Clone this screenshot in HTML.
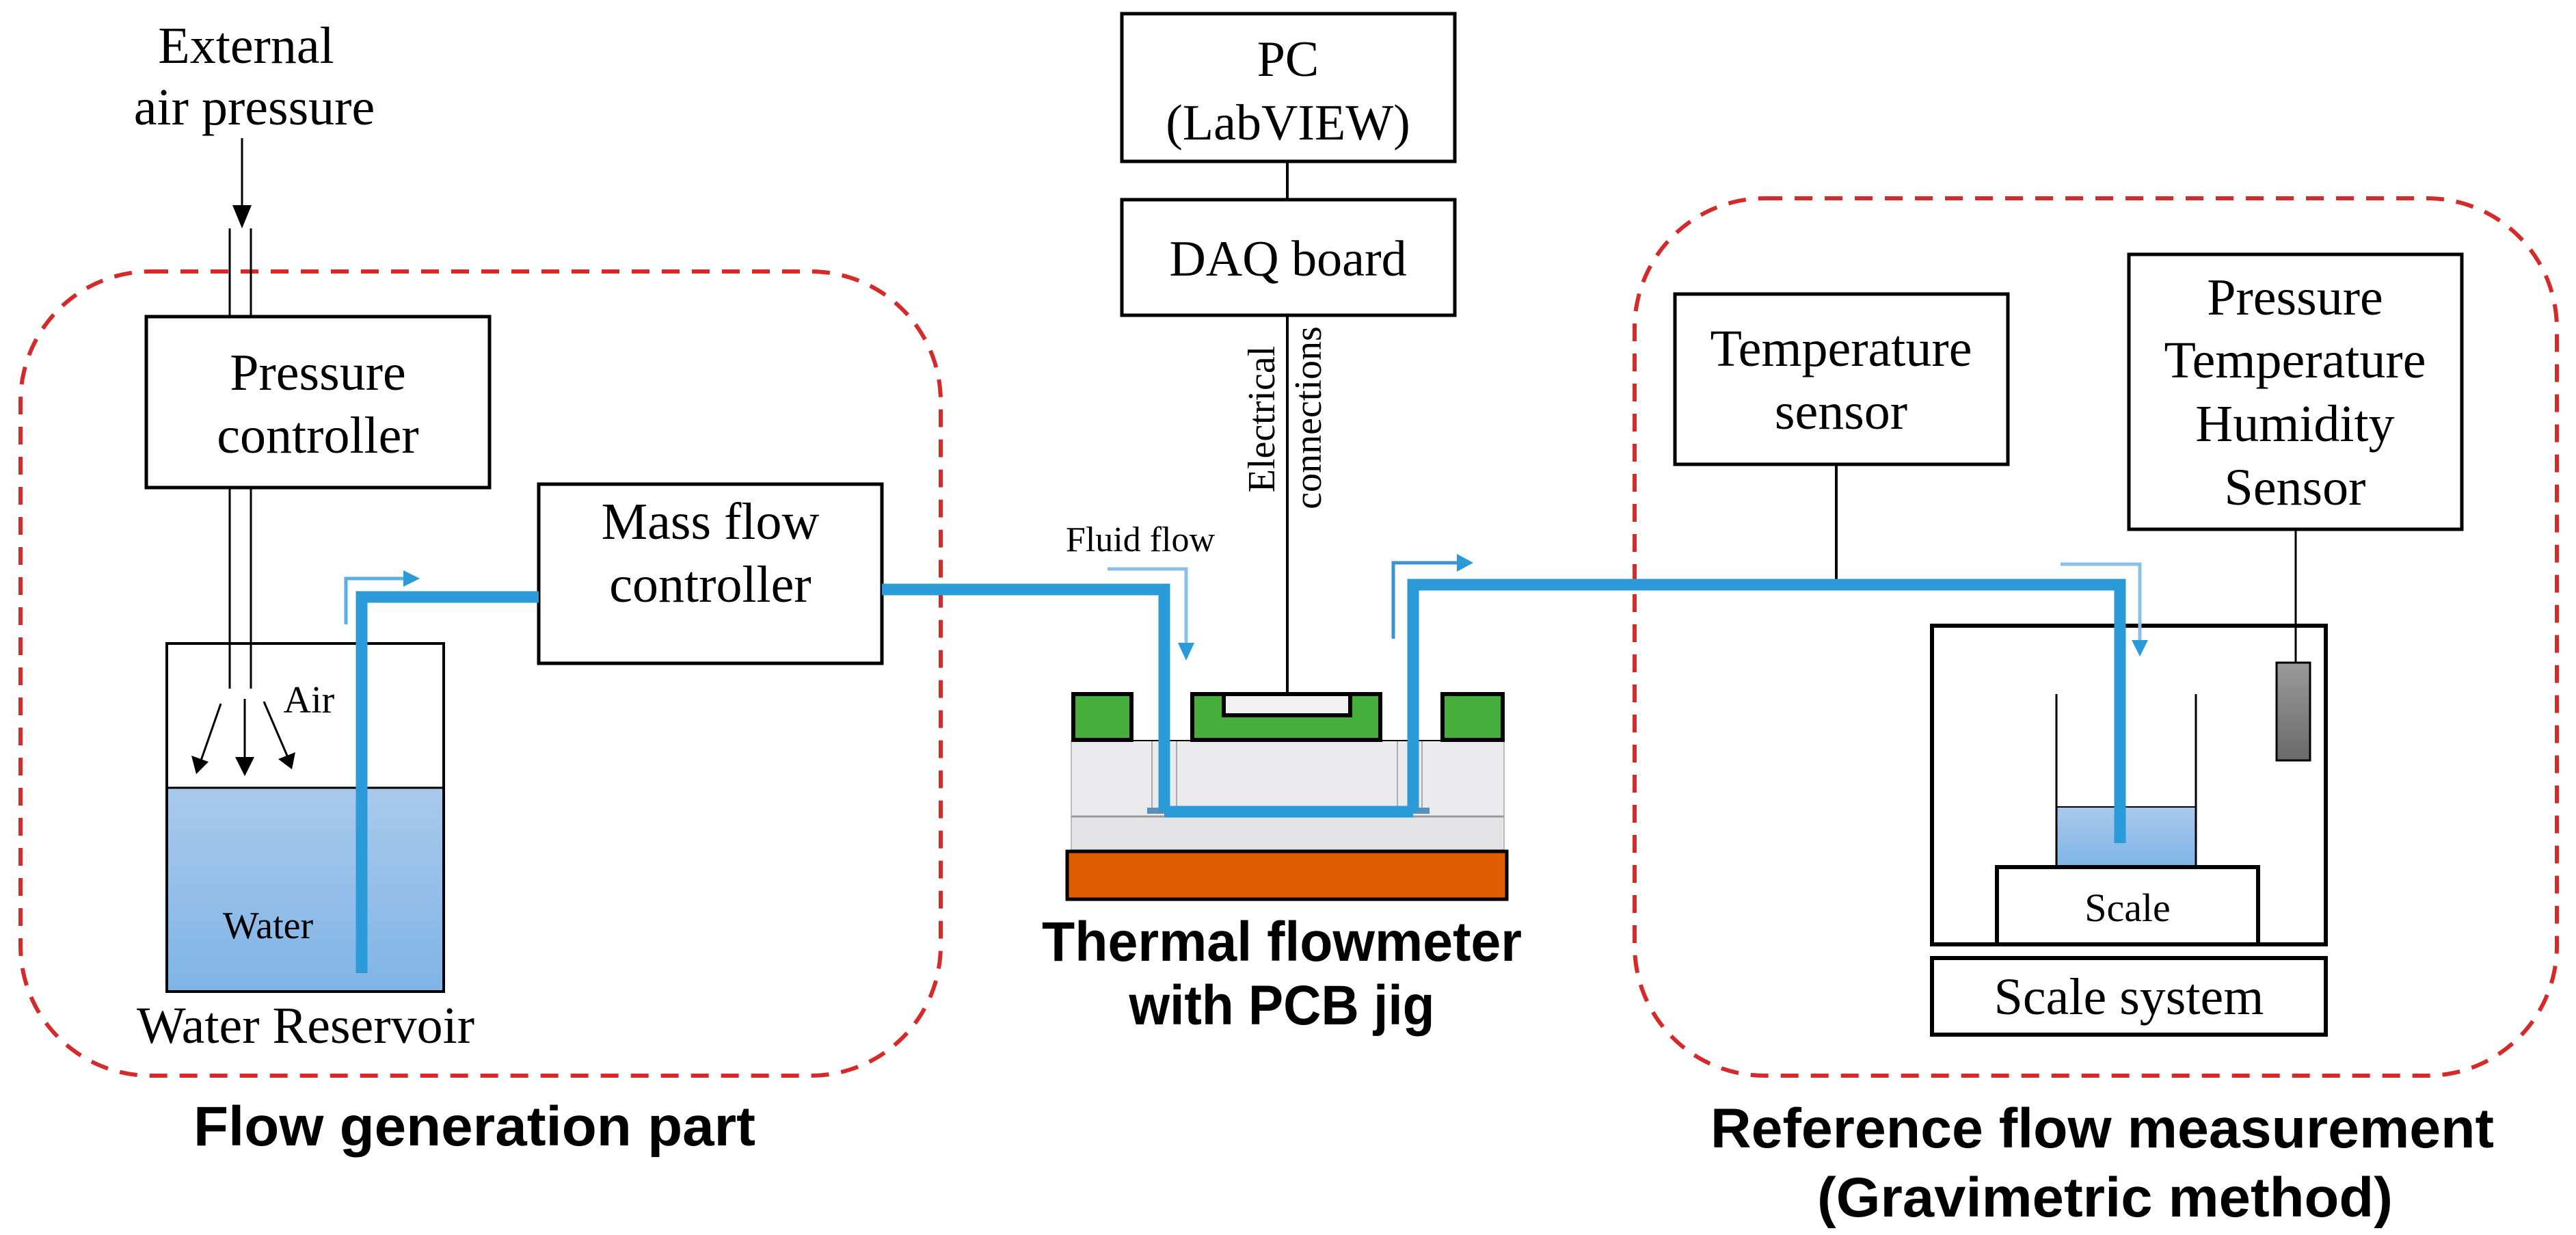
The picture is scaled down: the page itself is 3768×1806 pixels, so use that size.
<!DOCTYPE html>
<html><head><meta charset="utf-8">
<style>html,body{margin:0;padding:0;background:#fff}svg{display:block}</style>
</head><body>
<svg xmlns="http://www.w3.org/2000/svg" width="3768" height="1806" viewBox="0 0 3768 1806">
<defs>
<linearGradient id="wg" x1="0" y1="0" x2="0" y2="1"><stop offset="0" stop-color="#a9c9ec"/><stop offset="1" stop-color="#7fb4e6"/></linearGradient>
<marker id="ab" markerWidth="10" markerHeight="10" refX="9" refY="5" orient="auto" markerUnits="userSpaceOnUse" viewBox="0 0 10 10"><path d="M0,0 L10,5 L0,10 z" fill="#000"/></marker>
</defs>
<g font-family="Liberation Serif, serif" fill="#000">
<!-- dashed groups -->
<rect x="30" y="397" width="1346" height="1176" rx="190" fill="none" stroke="#d42a2a" stroke-width="6" stroke-dasharray="26,18"/>
<rect x="2391" y="290" width="1349" height="1283" rx="190" fill="none" stroke="#d42a2a" stroke-width="6" stroke-dasharray="26,18"/>

<!-- external air -->
<text x="360" y="92" font-size="76" text-anchor="middle">External</text>
<text x="372" y="182" font-size="76" text-anchor="middle">air pressure</text>
<line x1="354" y1="202" x2="354" y2="305" stroke="#000" stroke-width="3"/>
<path d="M340,300 L368,300 L354,334 z"/>
<line x1="336" y1="334" x2="336" y2="461" stroke="#000" stroke-width="3"/>
<line x1="367" y1="334" x2="367" y2="461" stroke="#000" stroke-width="3"/>
<line x1="336" y1="714" x2="336" y2="1007" stroke="#000" stroke-width="3"/>
<line x1="367" y1="714" x2="367" y2="1007" stroke="#000" stroke-width="3"/>

<!-- pressure controller -->
<rect x="214" y="463" width="502" height="250" fill="#fff" stroke="#000" stroke-width="5"/>
<text x="465" y="570" font-size="76" text-anchor="middle">Pressure</text>
<text x="465" y="662" font-size="76" text-anchor="middle">controller</text>

<!-- reservoir -->
<rect x="244" y="1152" width="405" height="298" fill="url(#wg)"/>
<rect x="244" y="941" width="405" height="509" fill="none" stroke="#000" stroke-width="4"/>
<line x1="244" y1="1152" x2="649" y2="1152" stroke="#000" stroke-width="3"/>
<text x="392" y="1372" font-size="56" text-anchor="middle">Water</text>
<text x="452" y="1042" font-size="56" text-anchor="middle">Air</text>
<line x1="323" y1="1029" x2="294" y2="1112" stroke="#000" stroke-width="3"/>
<path d="M280,1105 L305,1114 L287,1132 z"/>
<line x1="358" y1="1022" x2="358" y2="1112" stroke="#000" stroke-width="3"/>
<path d="M344,1107 L372,1107 L358,1135 z"/>
<line x1="386" y1="1026" x2="420" y2="1105" stroke="#000" stroke-width="3"/>
<path d="M407,1110 L432,1100 L427,1125 z"/>
<text x="447" y="1525" font-size="76" text-anchor="middle">Water Reservoir</text>

<!-- MFC -->
<rect x="788" y="708" width="502" height="262" fill="#fff" stroke="#000" stroke-width="5"/>
<text x="1039" y="788" font-size="76" text-anchor="middle">Mass flow</text>
<text x="1039" y="880" font-size="76" text-anchor="middle">controller</text>

<!-- PC / DAQ -->
<rect x="1641" y="20" width="487" height="216" fill="#fff" stroke="#000" stroke-width="5"/>
<text x="1884" y="111" font-size="74" text-anchor="middle">PC</text>
<text x="1884" y="204" font-size="74" text-anchor="middle">(LabVIEW)</text>
<line x1="1883" y1="236" x2="1883" y2="292" stroke="#000" stroke-width="4"/>
<rect x="1641" y="292" width="487" height="169" fill="#fff" stroke="#000" stroke-width="5"/>
<text x="1884" y="403" font-size="74" text-anchor="middle">DAQ board</text>
<line x1="1883" y1="461" x2="1883" y2="1014" stroke="#000" stroke-width="4"/>
<text transform="translate(1864,613) rotate(-90)" font-size="56" text-anchor="middle">Electrical</text>
<text transform="translate(1932,611) rotate(-90)" font-size="56" text-anchor="middle">connections</text>

<!-- thermal flowmeter -->
<rect x="1567" y="1083" width="633" height="111" fill="#ebebed" stroke="#bbb" stroke-width="2"/>
<rect x="1567" y="1194" width="633" height="49" fill="#e4e4e6" stroke="#bbb" stroke-width="2"/>
<line x1="1567" y1="1194" x2="2200" y2="1194" stroke="#999" stroke-width="3"/>
<line x1="1685" y1="1083" x2="1685" y2="1190" stroke="#aaa" stroke-width="2"/>
<line x1="1721" y1="1083" x2="1721" y2="1190" stroke="#aaa" stroke-width="2"/>
<line x1="2044" y1="1083" x2="2044" y2="1190" stroke="#aaa" stroke-width="2"/>
<line x1="2080" y1="1083" x2="2080" y2="1190" stroke="#aaa" stroke-width="2"/>
<line x1="1567" y1="1083" x2="2200" y2="1083" stroke="#000" stroke-width="2"/>
<rect x="1678" y="1181" width="413" height="9" fill="#5a8fb8"/>
<rect x="1570" y="1015" width="85" height="67" fill="#46ae3a" stroke="#000" stroke-width="6"/>
<rect x="2110" y="1015" width="88" height="67" fill="#46ae3a" stroke="#000" stroke-width="6"/>
<rect x="1744" y="1015" width="275" height="67" fill="#46ae3a" stroke="#000" stroke-width="6"/>
<rect x="1790" y="1015" width="185" height="31" fill="#f2f2f2" stroke="#000" stroke-width="6"/>
<rect x="1561" y="1245" width="643" height="70" fill="#e05c00" stroke="#000" stroke-width="5"/>

<!-- temperature sensor -->
<rect x="2450" y="430" width="487" height="249" fill="#fff" stroke="#000" stroke-width="5"/>
<text x="2693" y="535" font-size="76" text-anchor="middle">Temperature</text>
<text x="2693" y="627" font-size="76" text-anchor="middle">sensor</text>
<line x1="2686" y1="680" x2="2686" y2="855" stroke="#000" stroke-width="4"/>

<!-- PTH sensor -->
<rect x="3114" y="372" width="487" height="402" fill="#fff" stroke="#000" stroke-width="5"/>
<text x="3357" y="460" font-size="76" text-anchor="middle">Pressure</text>
<text x="3357" y="552" font-size="76" text-anchor="middle">Temperature</text>
<text x="3357" y="645" font-size="76" text-anchor="middle">Humidity</text>
<text x="3357" y="738" font-size="76" text-anchor="middle">Sensor</text>
<line x1="3358" y1="774" x2="3358" y2="969" stroke="#000" stroke-width="3"/>

<!-- enclosure -->
<rect x="2826" y="915" width="576" height="466" fill="none" stroke="#000" stroke-width="6"/>
<defs><linearGradient id="pg" x1="0" y1="0" x2="0" y2="1"><stop offset="0" stop-color="#9a9a9a"/><stop offset="1" stop-color="#6a6a6a"/></linearGradient></defs>
<rect x="3330" y="969" width="49" height="143" fill="url(#pg)" stroke="#000" stroke-width="3"/>
<rect x="3008" y="1180" width="204" height="86" fill="url(#wg)"/>
<line x1="3008" y1="1015" x2="3008" y2="1267" stroke="#000" stroke-width="3"/>
<line x1="3212" y1="1015" x2="3212" y2="1267" stroke="#000" stroke-width="3"/>
<line x1="3008" y1="1180" x2="3212" y2="1180" stroke="#000" stroke-width="2"/>
<rect x="2921" y="1268" width="382" height="113" fill="#fff" stroke="#000" stroke-width="6"/>
<text x="3112" y="1347" font-size="58" text-anchor="middle">Scale</text>
<rect x="2826" y="1401" width="576" height="112" fill="#fff" stroke="#000" stroke-width="6"/>
<text x="3114" y="1483" font-size="76" text-anchor="middle">Scale system</text>

<!-- pipes -->
<g fill="none" stroke="#2a9ad8" stroke-width="17" stroke-linejoin="miter">
<polyline points="529,1423 529,873 788,873"/>
<polyline points="1290,862 1703,862 1703,1187"/>
<polyline points="1703,1187 2067,1187"/>
<polyline points="2067,1187 2067,855 3101,855 3101,1233"/>
</g>
<!-- flow arrows -->
<g fill="none" stroke-width="5">
<polyline points="506,913 506,846 592,846" stroke="#5aaee6"/>
<polyline points="1620,832 1735,832 1735,942" stroke="#8cc0e8"/>
<polyline points="2038,934 2038,823 2135,823" stroke="#3d93d0"/>
<polyline points="3014,825 3130,825 3130,940" stroke="#8cc0e8"/>
</g>
<path d="M590,834 L614,846 L590,858 z" fill="#2a9ad8"/>
<path d="M1723,940 L1747,940 L1735,966 z" fill="#2a9ad8"/>
<path d="M2131,810 L2155,823 L2131,836 z" fill="#2a9ad8"/>
<path d="M3118,936 L3142,936 L3130,960 z" fill="#2a9ad8"/>
<text x="1668" y="806" font-size="52" text-anchor="middle">Fluid flow</text>

<!-- bold labels -->
<g font-family="Liberation Sans, sans-serif" font-weight="bold" font-size="82" text-anchor="middle">
<text x="1875" y="1405" textLength="702" lengthAdjust="spacingAndGlyphs">Thermal flowmeter</text>
<text x="1875" y="1498" textLength="447" lengthAdjust="spacingAndGlyphs">with PCB jig</text>
<text x="694" y="1675" textLength="822" lengthAdjust="spacingAndGlyphs">Flow generation part</text>
<text x="3075" y="1678" textLength="1146" lengthAdjust="spacingAndGlyphs">Reference flow measurement</text>
<text x="3079" y="1779" textLength="842" lengthAdjust="spacingAndGlyphs">(Gravimetric method)</text>
</g>
</g>
</svg>
</body></html>
